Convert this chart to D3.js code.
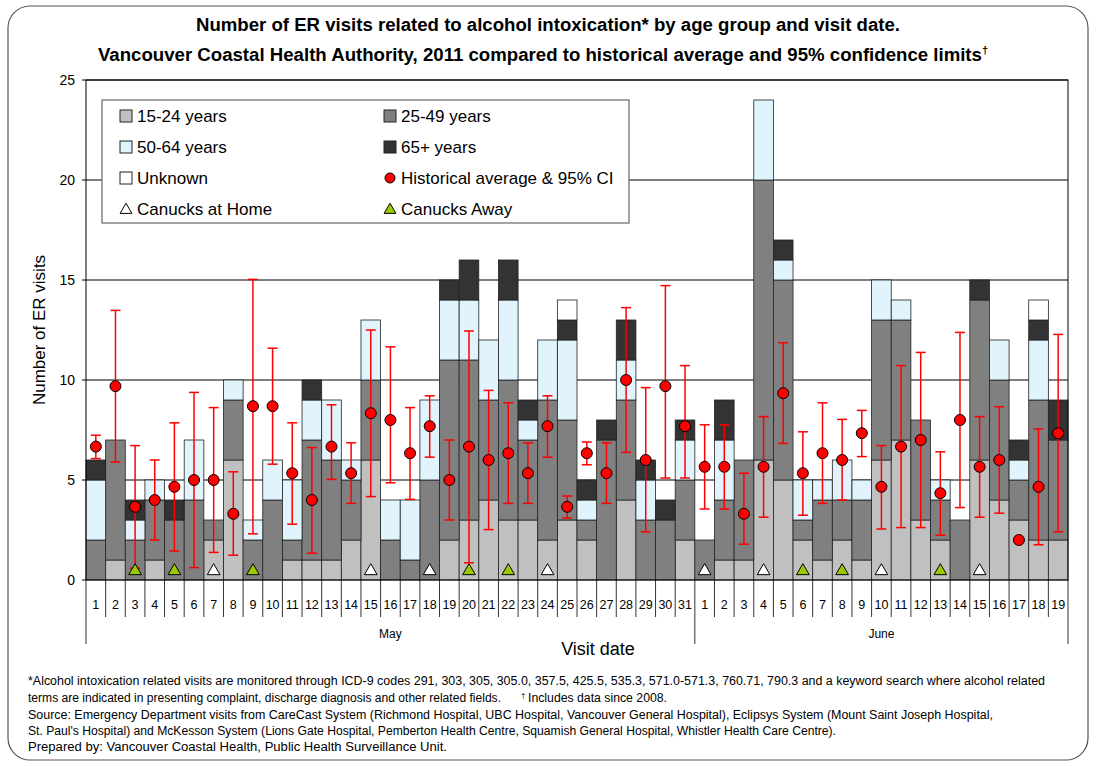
<!DOCTYPE html>
<html>
<head>
<meta charset="utf-8">
<script src="https://cdn.jsdelivr.net/npm/d3@7"></script>
<style>
  body { margin: 0; background: #fff; }
  text { font-family: "Liberation Sans", Arial, sans-serif; }
</style>
</head>
<body>
<div id="chart"></div>
<script>
// Visit dates (May 1-31, June 1-19, 2011)
const months = ["May", "June"];
const monthDays = [31, 19];
const dates = [];
months.forEach((m, i) => {
  for (let d = 1; d <= monthDays[i]; d++) dates.push({month: m, day: d, key: m + "-" + d});
});

// Counts by age group, one value per visit date
const age15_24 = [0,1,0,1,0,0,2,6,0,0,1,1,1,2,6,0,0,0,2,3,4,3,3,2,3,2,0,4,0,0,2,
                  0,1,1,6,5,2,1,2,1,6,7,3,2,0,6,4,3,2,2];
const age25_49 = [2,6,2,3,3,4,1,3,2,4,1,6,5,3,4,2,1,5,9,8,5,7,4,7,5,1,7,5,3,3,3,
                  2,3,5,14,10,1,3,2,3,7,6,5,2,3,8,6,2,7,5];
const age50_64 = [3,0,1,1,0,3,0,1,1,2,3,2,3,1,3,2,3,4,3,3,3,4,1,3,4,1,0,2,2,0,2,
                  0,3,0,4,1,2,1,2,1,2,1,0,1,0,0,2,1,3,0];
const age65    = [1,0,1,0,1,0,0,0,0,0,0,1,0,0,0,0,0,0,1,2,0,2,1,0,1,1,1,2,1,1,1,
                  0,2,0,0,1,0,0,0,0,0,0,0,0,0,1,0,1,1,2];
const unknown  = [0,0,0,0,0,0,0,0,0,0,0,0,0,0,0,0,0,0,0,0,0,0,0,0,1,0,0,0,0,0,0,
                  0,0,0,0,0,0,0,0,0,0,0,0,0,0,0,0,0,1,0];

// Historical average and 95% confidence limits
const histAvg = [6.67,9.69,3.66,4.0,4.66,5.0,5.0,3.31,8.69,8.69,5.34,4.0,6.67,5.34,8.34,8.0,6.34,7.69,5.0,6.67,6.0,6.34,5.34,7.69,3.66,6.34,5.34,10.0,6.0,9.69,7.69,
                 5.66,5.66,3.31,5.66,9.34,5.34,6.34,6.0,7.34,4.66,6.67,7.0,4.34,8.0,5.66,6.0,2.0,4.66,7.34];
const ciLow   = [6.07,5.9,0.59,2.0,1.45,0.62,1.38,1.24,2.31,5.79,2.79,1.34,5.03,3.83,4.17,4.86,4.03,6.14,3.0,0.86,2.52,3.83,3.83,6.14,3.1,5.76,3.83,6.38,2.41,5.1,5.1,
                 3.55,3.55,1.79,3.14,6.83,3.24,3.83,4.0,6.17,2.55,2.62,2.62,2.24,3.62,3.14,3.34,2.0,1.76,2.41];
const ciHigh  = [7.24,13.48,6.72,6.0,7.86,9.38,8.62,5.41,15.03,11.59,7.86,6.62,8.76,6.86,12.5,11.66,8.62,9.21,7.0,12.45,9.48,8.86,6.86,9.21,4.2,6.9,6.86,13.62,9.62,14.72,10.72,
                 7.76,7.76,5.34,8.17,11.86,7.41,8.86,8.03,8.48,6.72,10.72,11.38,6.41,12.38,8.17,8.66,2.0,7.55,12.28];

// Canucks game days
const canucksHome = ["May-7","May-15","May-18","May-24","June-1","June-4","June-10","June-15"];
const canucksAway = ["May-3","May-5","May-9","May-20","May-22","June-6","June-8","June-13"];

const seriesKeys = ["15-24 years","25-49 years","50-64 years","65+ years","Unknown"];
const seriesColors = ["#c0c0c0","#808080","#e1f3fc","#333333","#ffffff"];
const seriesValues = [age15_24, age25_49, age50_64, age65, unknown];
const yTicks = [0,5,10,15,20,25];

const W = 1096, H = 766;
const plot = {left: 86, right: 1068, top: 80, bottom: 580};

const svg = d3.select("#chart").append("svg")
  .attr("width", W).attr("height", H);

// Outer frame
svg.append("rect")
  .attr("x", 8).attr("y", 6).attr("width", W - 16).attr("height", H - 12)
  .attr("rx", 22).attr("fill", "#fff")
  .attr("stroke", "#555").attr("stroke-width", 1.2);

// Title
const title = svg.append("g").attr("font-weight", "bold").attr("font-size", 17.5)
  .attr("text-anchor", "middle").attr("fill", "#000");
title.append("text").attr("x", 548).attr("y", 31)
  .attr("textLength", 704).attr("lengthAdjust", "spacingAndGlyphs")
  .text("Number of ER visits related to alcohol intoxication* by age group and visit date.");
const t2 = title.append("text").attr("x", 543).attr("y", 61);
t2.append("tspan").attr("textLength", 884).attr("lengthAdjust", "spacingAndGlyphs")
  .text("Vancouver Coastal Health Authority, 2011 compared to historical average and 95% confidence limits");
t2.append("tspan").attr("dy", -7).attr("font-size", 11).text("†");

const x = d3.scaleBand()
  .domain(dates.map(d => d.key))
  .range([plot.left, plot.right])
  .padding(0);

const y = d3.scaleLinear().domain([0, 25]).range([plot.bottom, plot.top]);

// Gridlines
svg.append("g").selectAll("line").data(yTicks.filter(t => t > 0)).join("line")
  .attr("x1", plot.left).attr("x2", plot.right)
  .attr("y1", d => y(d)).attr("y2", d => y(d))
  .attr("stroke", "#000").attr("stroke-width", 1);

// Stacked bars
const table = dates.map((d, i) => {
  const row = {key: d.key};
  seriesKeys.forEach((k, j) => row[k] = seriesValues[j][i]);
  return row;
});
const stacked = d3.stack().keys(seriesKeys)(table);

svg.append("g").selectAll("g").data(stacked).join("g")
  .attr("fill", (d, i) => seriesColors[i])
  .selectAll("rect").data(d => d.filter(s => s[1] > s[0])).join("rect")
  .attr("x", d => x(d.data.key))
  .attr("width", x.bandwidth())
  .attr("y", d => y(d[1]))
  .attr("height", d => y(d[0]) - y(d[1]))
  .attr("stroke", "#222").attr("stroke-width", 0.8);

// Plot border
svg.append("rect")
  .attr("x", plot.left).attr("y", plot.top)
  .attr("width", plot.right - plot.left).attr("height", plot.bottom - plot.top)
  .attr("fill", "none").attr("stroke", "#000").attr("stroke-width", 1);

// Legend
const legend = svg.append("g");
legend.append("rect").attr("x", 102).attr("y", 100).attr("width", 527).attr("height", 123)
  .attr("fill", "#fff").attr("stroke", "#666").attr("stroke-width", 1.2);
const legendItems = [
  {label: "15-24 years", type: "box", color: seriesColors[0], col: 0, row: 0},
  {label: "25-49 years", type: "box", color: seriesColors[1], col: 1, row: 0},
  {label: "50-64 years", type: "box", color: seriesColors[2], col: 0, row: 1},
  {label: "65+ years", type: "box", color: seriesColors[3], col: 1, row: 1},
  {label: "Unknown", type: "box", color: seriesColors[4], col: 0, row: 2},
  {label: "Historical average & 95% CI", type: "dot", color: "#ff0000", col: 1, row: 2},
  {label: "Canucks at Home", type: "tri", color: "#ffffff", col: 0, row: 3},
  {label: "Canucks Away", type: "tri", color: "#99cc00", col: 1, row: 3}
];
const colX = [120, 384];
const rowY = [116, 147, 178, 209];
legendItems.forEach(it => {
  const cx = colX[it.col], cy = rowY[it.row];
  if (it.type === "box") {
    legend.append("rect").attr("x", cx).attr("y", cy - 6).attr("width", 12).attr("height", 12)
      .attr("fill", it.color).attr("stroke", "#222").attr("stroke-width", 1);
  } else if (it.type === "dot") {
    legend.append("circle").attr("cx", cx + 6).attr("cy", cy).attr("r", 5)
      .attr("fill", it.color).attr("stroke", "#000").attr("stroke-width", 1);
  } else {
    legend.append("path").attr("d", d3.symbol(d3.symbolTriangle, 60)())
      .attr("transform", `translate(${cx + 6},${cy + 1})`)
      .attr("fill", it.color).attr("stroke", "#000").attr("stroke-width", 1);
  }
  legend.append("text").attr("x", cx + 17).attr("y", cy + 6)
    .attr("font-size", 17).text(it.label);
});

// Error bars and historical average
const ci = svg.append("g");
const cx = d => x(d.key) + x.bandwidth() / 2;
const ciData = dates.map((d, i) => ({key: d.key, avg: histAvg[i], lo: ciLow[i], hi: ciHigh[i]}));
ci.selectAll(".ci-v").data(ciData).join("line")
  .attr("x1", cx).attr("x2", cx)
  .attr("y1", d => y(d.lo)).attr("y2", d => y(d.hi))
  .attr("stroke", "#ff0000").attr("stroke-width", 1.5);
["lo", "hi"].forEach(k => {
  ci.selectAll(".cap-" + k).data(ciData.filter(d => d.hi > d.lo)).join("line")
    .attr("x1", d => cx(d) - 5).attr("x2", d => cx(d) + 5)
    .attr("y1", d => y(d[k])).attr("y2", d => y(d[k]))
    .attr("stroke", "#ff0000").attr("stroke-width", 1.5);
});
ci.selectAll("circle").data(ciData).join("circle")
  .attr("cx", cx).attr("cy", d => y(d.avg)).attr("r", 5.5)
  .attr("fill", "#ff0000").attr("stroke", "#000").attr("stroke-width", 1);

// Canucks game markers
const games = canucksHome.map(k => ({key: k, color: "#ffffff"}))
  .concat(canucksAway.map(k => ({key: k, color: "#99cc00"})));
svg.append("g").selectAll("path").data(games).join("path")
  .attr("d", d3.symbol(d3.symbolTriangle, 70)())
  .attr("transform", d => `translate(${x(d.key) + x.bandwidth() / 2},${y(0) - 9})`)
  .attr("fill", d => d.color).attr("stroke", "#000").attr("stroke-width", 1);

// Y axis
const yAxis = svg.append("g");
yAxis.selectAll("line").data(yTicks).join("line")
  .attr("x1", plot.left - 4).attr("x2", plot.left)
  .attr("y1", d => y(d)).attr("y2", d => y(d))
  .attr("stroke", "#000");
yAxis.selectAll("text").data(yTicks).join("text")
  .attr("x", plot.left - 11).attr("y", d => y(d) + 5)
  .attr("text-anchor", "end").attr("font-size", 14).text(d => d);
svg.append("text")
  .attr("transform", `translate(45,${(plot.top + plot.bottom) / 2}) rotate(-90)`)
  .attr("text-anchor", "middle").attr("font-size", 17)
  .text("Number of ER visits");

// X axis: day labels, separators, month labels
const xAxis = svg.append("g");
const bounds = dates.map(d => x(d.key)).concat([plot.right]);
const monthStart = [0, monthDays[0], dates.length];
xAxis.selectAll("line").data(bounds).join("line")
  .attr("x1", d => d).attr("x2", d => d)
  .attr("y1", plot.bottom)
  .attr("y2", (d, i) => monthStart.includes(i) ? 644 : 617)
  .attr("stroke", "#000").attr("stroke-width", 0.8);
xAxis.selectAll("text").data(dates).join("text")
  .attr("x", d => x(d.key) + x.bandwidth() / 2).attr("y", 609)
  .attr("text-anchor", "middle").attr("font-size", 12.5).text(d => d.day);
months.forEach((m, i) => {
  const x0 = bounds[monthStart[i]], x1 = bounds[monthStart[i + 1]];
  svg.append("text").attr("x", (x0 + x1) / 2).attr("y", 638)
    .attr("text-anchor", "middle").attr("font-size", 12).text(m);
});
svg.append("text").attr("x", 598).attr("y", 655)
  .attr("text-anchor", "middle").attr("font-size", 18).text("Visit date");

// Footnotes
const notes = svg.append("g").attr("font-size", 12).attr("fill", "#000");
const noteY = [685, 702, 719, 735, 751];
notes.append("text").attr("x", 28).attr("y", noteY[0])
  .attr("textLength", 1017).attr("lengthAdjust", "spacingAndGlyphs")
  .text("*Alcohol intoxication related visits are monitored through ICD-9 codes 291, 303, 305, 305.0, 357.5, 425.5, 535.3, 571.0-571.3, 760.71, 790.3 and a keyword search where alcohol related");
const n2 = notes.append("text").attr("y", noteY[1]);
n2.append("tspan").attr("x", 28).attr("textLength", 473).attr("lengthAdjust", "spacingAndGlyphs")
  .text("terms are indicated in presenting complaint, discharge diagnosis and other related fields.");
n2.append("tspan").attr("x", 521).attr("dy", -4).attr("font-size", 8).text("†");
n2.append("tspan").attr("x", 528).attr("dy", 4).attr("textLength", 139).attr("lengthAdjust", "spacingAndGlyphs")
  .text("Includes data since 2008.");
notes.append("text").attr("x", 28).attr("y", noteY[2])
  .attr("textLength", 965).attr("lengthAdjust", "spacingAndGlyphs")
  .text("Source: Emergency Department visits from CareCast System (Richmond Hospital, UBC Hospital, Vancouver General Hospital), Eclipsys System (Mount Saint Joseph Hospital,");
notes.append("text").attr("x", 28).attr("y", noteY[3])
  .attr("textLength", 808).attr("lengthAdjust", "spacingAndGlyphs")
  .text("St. Paul's Hospital) and McKesson System (Lions Gate Hospital, Pemberton Health Centre, Squamish General Hospital, Whistler Health Care Centre).");
notes.append("text").attr("x", 28).attr("y", noteY[4])
  .attr("textLength", 419).attr("lengthAdjust", "spacingAndGlyphs")
  .text("Prepared by: Vancouver Coastal Health, Public Health Surveillance Unit.");
</script>
</body>
</html>
